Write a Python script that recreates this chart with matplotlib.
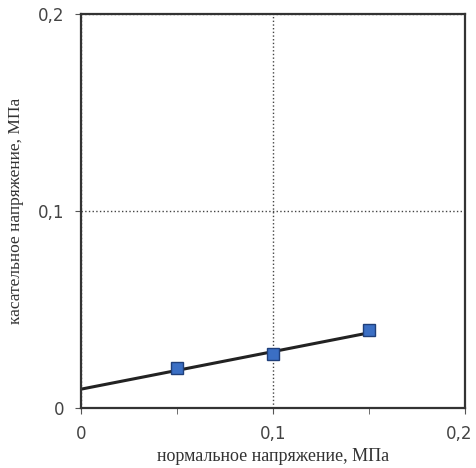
import matplotlib.pyplot as plt
import matplotlib.transforms as mtransforms
from matplotlib.ticker import FuncFormatter

# data
sigma = [0.05, 0.10, 0.15]
tau = [0.0203, 0.0274, 0.0396]
trend_x = [0.0, 0.15]
trend_y = [0.0096, 0.0382]

fig = plt.figure(figsize=(4.76, 4.68), dpi=100)
ax = fig.add_axes([0.170, 0.128, 0.807, 0.842])

ax.plot(trend_x, trend_y, color='#222222', lw=2.2, zorder=2)
ax.plot(sigma, tau, 's', color='#3b6fc4', mec='#1f3f7a', ms=8, zorder=3)

ax.set_xlim(0, 0.2)
ax.set_ylim(0, 0.2)
ax.set_xticks([0, 0.1, 0.2])
ax.set_yticks([0, 0.1, 0.2])
ax.set_xticks([0.05, 0.15], minor=True)
comma = FuncFormatter(lambda v, p: '0' if v == 0 else ('%.1f' % v).replace('.', ','))
ax.xaxis.set_major_formatter(comma)
ax.yaxis.set_major_formatter(comma)
ax.grid(True, which='major', color='#444444', ls=':', lw=1)
ax.tick_params(which='both', direction='out', length=4, color='#555555',
               labelsize=12, labelcolor='#444444', pad=8)
for s in ax.spines.values():
    s.set_linewidth(1.6)
    s.set_color('#333333')

# keep the last x label inside the picture
last = ax.get_xticklabels()[-1]
last.set_transform(last.get_transform() + mtransforms.ScaledTranslation(-6 / 100, 0, fig.dpi_scale_trans))

ax.set_xlabel('нормальное напряжение, МПа', family='Liberation Serif', fontsize=13, color='#333333')
ax.set_ylabel('касательное напряжение, МПа', family='Liberation Serif', fontsize=12.5,
              color='#333333', labelpad=10)

fig.savefig('out.png', dpi=100)
